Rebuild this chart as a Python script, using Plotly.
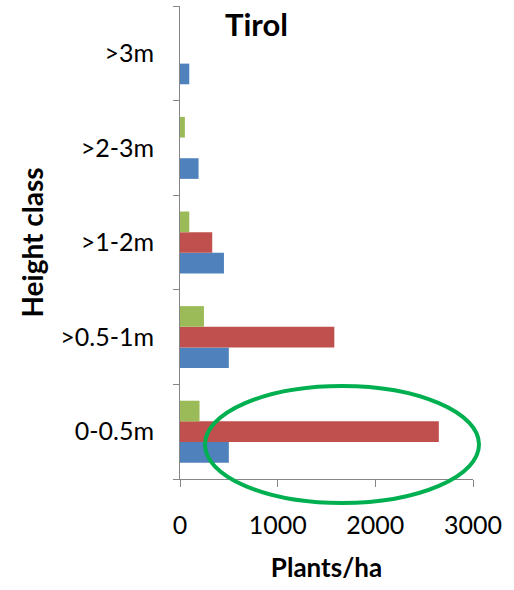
import plotly.graph_objects as go

# Height classes, bottom to top
categories = ["0-0.5m", ">0.5-1m", ">1-2m", ">2-3m", ">3m"]

# Plants per hectare for each series
series_blue = [500, 500, 450, 190, 95]
series_red = [2650, 1580, 330, 0, 0]
series_green = [200, 245, 95, 50, 0]

x_ticks = [0, 1000, 2000, 3000]

FONT = "Lato, Open Sans, sans-serif"
AXIS_GRAY = "#868686"

fig = go.Figure()
for name, vals, color in [
    ("Series 1", series_blue, "#4F81BD"),
    ("Series 2", series_red, "#C0504D"),
    ("Series 3", series_green, "#9BBB59"),
]:
    fig.add_trace(go.Bar(
        y=categories, x=vals, orientation="h", name=name,
        marker=dict(color=color, line=dict(width=0)),
    ))

W, H = 514, 590
L, R, T, B = 180, 41, 6, 111
pw, ph = W - L - R, H - T - B


def px_x(v):
    return (v - L) / pw


def px_y(v):
    return (H - B - v) / ph


fig.update_layout(
    width=W, height=H,
    margin=dict(l=L, r=R, t=T, b=B, pad=0),
    paper_bgcolor="white", plot_bgcolor="white",
    barmode="group", bargap=0.345, bargroupgap=0,
    showlegend=False,
    font=dict(family=FONT, color="black"),
    xaxis=dict(
        range=[0, 3000], tickvals=x_ticks, ticktext=[str(t) for t in x_ticks],
        showgrid=False, zeroline=False,
        showline=True, linecolor=AXIS_GRAY, linewidth=1,
        ticks="outside", ticklen=7, tickcolor=AXIS_GRAY,
        tickfont=dict(size=25, family=FONT), ticklabelstandoff=17,
        title=dict(text="<b>Plants/ha</b>", font=dict(size=26, family=FONT), standoff=20),
    ),
    yaxis=dict(
        range=[-0.5, 4.5],
        showgrid=False, zeroline=False,
        showline=True, linecolor=AXIS_GRAY, linewidth=1,
        ticks="outside", tickson="boundaries", ticklen=6, tickcolor=AXIS_GRAY,
        tickfont=dict(size=25, family=FONT), ticklabelstandoff=20,
        title=dict(text="<b>Height class</b>", font=dict(size=28, family=FONT), standoff=8),
    ),
)

# Title
fig.add_annotation(
    text="<b>Tirol</b>", xref="paper", yref="paper",
    x=px_x(256), y=px_y(3), xanchor="center", yanchor="top",
    showarrow=False, font=dict(size=31, family=FONT, color="black"),
)

# Highlight ellipse around the tallest bar
fig.add_shape(
    type="circle", xref="paper", yref="paper",
    x0=px_x(205), x1=px_x(479), y0=px_y(503), y1=px_y(386),
    line=dict(color="#00B050", width=4), fillcolor="rgba(0,0,0,0)",
)

fig.write_html("out.html")
